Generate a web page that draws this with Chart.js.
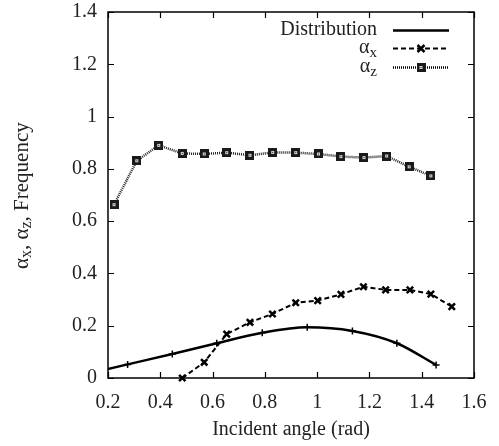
<!DOCTYPE html>
<html>
<head>
<meta charset="utf-8">
<script src="https://cdn.jsdelivr.net/npm/chart.js@4/dist/chart.umd.min.js"></script>
<style>
  html, body { margin: 0; padding: 0; background: #fff; }
  #wrap { width: 499px; height: 446px; }
</style>
</head>
<body>
<div id="wrap"><canvas id="c" width="499" height="446"></canvas></div>
<script>
// Incident angle (rad) for the distribution curve and its values
const distAngles = [0.105, 0.275, 0.446, 0.616, 0.79, 0.962, 1.135, 1.305, 1.455];
const distValues = [0.012, 0.052, 0.092, 0.133, 0.173, 0.194, 0.18, 0.133, 0.05];

// alpha_x series
const alphaXAngles = [0.484, 0.568, 0.654, 0.743, 0.829, 0.918, 1.002, 1.091, 1.177, 1.262, 1.355, 1.435, 1.515];
const alphaXValues = [0.0, 0.06, 0.168, 0.213, 0.245, 0.288, 0.296, 0.320, 0.349, 0.337, 0.337, 0.321, 0.273];

// alpha_z series
const alphaZAngles = [0.223, 0.31, 0.394, 0.484, 0.568, 0.654, 0.743, 0.83, 0.918, 1.005, 1.091, 1.179, 1.266, 1.352, 1.435];
const alphaZValues = [0.663, 0.831, 0.890, 0.859, 0.857, 0.862, 0.852, 0.863, 0.862, 0.857, 0.847, 0.843, 0.849, 0.808, 0.773];

// Axis ranges and tick labels
const xTicks = ['0.2', '0.4', '0.6', '0.8', '1', '1.2', '1.4', '1.6'];
const yTicks = ['0', '0.2', '0.4', '0.6', '0.8', '1', '1.2', '1.4'];

const FONT = '"Liberation Serif", "Times New Roman", serif';
const FS = 20;
const SUB = 15;

function pairs(xs, ys) { return xs.map((x, i) => ({ x: x, y: ys[i] })); }

// boxed square marker
function boxMarker() {
  const c = document.createElement('canvas');
  c.width = 9; c.height = 9;
  const g = c.getContext('2d');
  g.fillStyle = '#1a1a1a';
  g.fillRect(0, 0, 9, 9);
  g.strokeStyle = '#d8d8d8';
  g.lineWidth = 1;
  g.strokeRect(3.5, 3.5, 2, 2);
  return c;
}
const boxImg = boxMarker();

// text with subscript segments: [[text, isSub], ...]
function segWidth(ctx, segs, fs, sub) {
  let w = 0;
  segs.forEach(s => {
    ctx.font = (s[1] ? sub : fs) + 'px ' + FONT;
    w += ctx.measureText(s[0]).width;
  });
  return w;
}
function drawSegs(ctx, segs, x, y, fs, sub) {
  let cx = x;
  segs.forEach(s => {
    ctx.font = (s[1] ? sub : fs) + 'px ' + FONT;
    ctx.fillText(s[0], cx, s[1] ? y + 5 : y);
    cx += ctx.measureText(s[0]).width;
  });
}

const framePlugin = {
  id: 'frame',
  afterDatasetsDraw(chart) {
    const ctx = chart.ctx, a = chart.chartArea;
    const xs = chart.scales.x, ys = chart.scales.y;
    ctx.save();
    ctx.strokeStyle = '#000';
    ctx.lineWidth = 1.2;
    ctx.beginPath();
    xTicks.forEach(t => {
      const px = Math.round(xs.getPixelForValue(parseFloat(t))) + 0.5;
      ctx.moveTo(px, a.bottom); ctx.lineTo(px, a.bottom - 6);
      ctx.moveTo(px, a.top); ctx.lineTo(px, a.top + 6);
    });
    yTicks.forEach(t => {
      const py = Math.round(ys.getPixelForValue(parseFloat(t))) + 0.5;
      ctx.moveTo(a.left, py); ctx.lineTo(a.left + 6, py);
      ctx.moveTo(a.right, py); ctx.lineTo(a.right - 6, py);
    });
    ctx.stroke();
    ctx.lineWidth = 1.5;
    ctx.strokeRect(a.left, a.top, a.right - a.left, a.bottom - a.top);

    // y-axis title
    ctx.fillStyle = '#222';
    ctx.textBaseline = 'middle';
    ctx.textAlign = 'left';
    const title = [['\u03B1', false], ['x', true], [', \u03B1', false], ['z', true], [', Frequency', false]];
    ctx.translate(22, 269);
    ctx.rotate(-Math.PI / 2);
    drawSegs(ctx, title, 0, 0, 21, 16);
    ctx.restore();

    // legend
    ctx.save();
    ctx.fillStyle = '#222';
    ctx.textBaseline = 'middle';
    ctx.textAlign = 'left';
    const right = 377, x0 = 393, x1 = 449, xm = 421;
    const rows = [
      { segs: [['Distribution', false]], y: 30, dash: [], width: 2.5, mark: null },
      { segs: [['\u03B1', false], ['x', true]], y: 48, dash: [5, 3], width: 2, mark: 'x' },
      { segs: [['\u03B1', false], ['z', true]], y: 67, dash: [1, 1], width: 2.5, mark: 'box' }
    ];
    rows.forEach(r => {
      const w = segWidth(ctx, r.segs, FS, SUB);
      drawSegs(ctx, r.segs, right - w, r.y, FS, SUB);
      ctx.strokeStyle = '#000';
      ctx.lineWidth = r.width;
      ctx.setLineDash(r.dash);
      ctx.beginPath();
      ctx.moveTo(x0, r.y + 0.5); ctx.lineTo(x1, r.y + 0.5);
      ctx.stroke();
      ctx.setLineDash([]);
      if (r.mark === 'x') {
        ctx.lineWidth = 2.5;
        ctx.beginPath();
        ctx.moveTo(xm - 3.5, r.y - 3); ctx.lineTo(xm + 3.5, r.y + 4);
        ctx.moveTo(xm + 3.5, r.y - 3); ctx.lineTo(xm - 3.5, r.y + 4);
        ctx.stroke();
      } else if (r.mark === 'box') {
        ctx.drawImage(boxImg, xm - 4.5, r.y - 4);
      }
    });
    ctx.restore();
  }
};

new Chart(document.getElementById('c'), {
  type: 'scatter',
  data: {
    datasets: [
      {
        label: 'Distribution',
        data: pairs(distAngles, distValues),
        showLine: true,
        borderColor: '#000',
        backgroundColor: '#000',
        borderWidth: 2.5,
        cubicInterpolationMode: 'monotone',
        pointStyle: 'cross',
        pointRadius: 3.5,
        pointBorderWidth: 1.5,
        pointBorderColor: '#000',
        clip: 0
      },
      {
        label: 'αx',
        data: pairs(alphaXAngles, alphaXValues),
        showLine: true,
        borderColor: '#000',
        backgroundColor: '#000',
        borderWidth: 2,
        borderDash: [5, 3],
        pointStyle: 'crossRot',
        pointRadius: 4.5,
        pointBorderWidth: 2.5,
        pointBorderColor: '#000',
        clip: false
      },
      {
        label: 'αz',
        data: pairs(alphaZAngles, alphaZValues),
        showLine: true,
        borderColor: '#222',
        backgroundColor: '#000',
        borderWidth: 2.5,
        borderDash: [1, 1],
        pointStyle: boxImg,
        pointRadius: 4.5,
        clip: false
      }
    ]
  },
  options: {
    responsive: false,
    animation: false,
    devicePixelRatio: 1,
    layout: { padding: { top: 12, right: 25, left: 0, bottom: 0 } },
    plugins: { legend: { display: false }, tooltip: { enabled: false } },
    scales: {
      x: {
        type: 'linear',
        min: 0.2, max: 1.6,
        afterBuildTicks: s => { s.ticks = xTicks.map(t => ({ value: parseFloat(t) })); },
        ticks: {
          callback: (v, i) => xTicks[i],
          font: { family: FONT, size: FS },
          color: '#222',
          padding: 13,
          maxRotation: 0
        },
        grid: { display: false, drawTicks: false },
        border: { display: false },
        title: {
          display: true,
          text: 'Incident angle (rad)',
          font: { family: FONT, size: FS },
          color: '#222',
          padding: { top: 0, bottom: 4 }
        },
        afterFit: s => { s.height = 68; s.paddingLeft = 0; s.paddingRight = 0; }
      },
      y: {
        type: 'linear',
        min: 0, max: 1.4,
        afterBuildTicks: s => { s.ticks = yTicks.map(t => ({ value: parseFloat(t) })); },
        ticks: {
          callback: (v, i) => yTicks[i],
          font: { family: FONT, size: FS },
          color: '#222',
          padding: 11
        },
        grid: { display: false, drawTicks: false },
        border: { display: false },
        afterFit: s => { s.width = 108; s.paddingTop = 0; s.paddingBottom = 0; }
      }
    }
  },
  plugins: [framePlugin]
});
</script>
</body>
</html>
